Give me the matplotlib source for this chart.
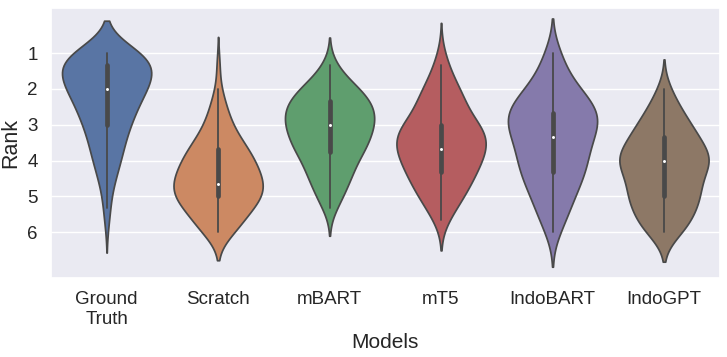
import matplotlib
matplotlib.use("Agg")
import matplotlib.pyplot as plt
import numpy as np
import pandas as pd
import seaborn as sns

# Rank levels: averages over 3 annotators -> steps of 1/3 between 1 and 6
levels = np.arange(3, 19) / 3

models = ["Ground\nTruth", "Scratch", "mBART", "mT5", "IndoBART", "IndoGPT"]

# how many samples got each level (1, 1.33, 1.67, ..., 6)
ground_truth = [15, 14, 13, 12, 9, 8, 7, 5, 5, 4, 3, 2, 1, 1, 1, 0]
scratch = [0, 1, 0, 1, 2, 3, 4, 6, 9, 11, 12, 14, 14, 10, 7, 6]
mbart = [0, 2, 4, 9, 12, 13, 13, 11, 11, 7, 7, 5, 4, 2, 0, 0]
mt5 = [1, 2, 3, 5, 7, 6, 11, 13, 12, 11, 9, 8, 6, 4, 2, 0]
indobart = [3, 2, 4, 6, 9, 12, 11, 9, 8, 8, 8, 6, 5, 4, 3, 2]
indogpt = [0, 0, 0, 2, 3, 5, 7, 9, 10, 15, 9, 9, 10, 8, 7, 6]

counts = [ground_truth, scratch, mbart, mt5, indobart, indogpt]

rows = []
for name, c in zip(models, counts):
    for v in np.repeat(levels, c):
        rows.append((name, v))
df = pd.DataFrame(rows, columns=["Models", "Rank"])

sns.set_theme(style="darkgrid")
plt.rcParams['font.family'] = ['Liberation Sans', 'DejaVu Sans']

fig, ax = plt.subplots(figsize=(7.27, 3.57), dpi=100)
sns.violinplot(data=df, x="Models", y="Rank", hue="Models", palette="deep",
               legend=False, ax=ax, order=models,
               inner_kws=dict(box_width=3.4, whis_width=1.3, marker="."))
ax.set_ylim(7.28, -0.26)
ax.set_yticks([1, 2, 3, 4, 5, 6])
ax.tick_params(labelsize=13.5)
ax.set_xlabel("Models", fontsize=15)
ax.set_ylabel("Rank", fontsize=15.5)
fig.subplots_adjust(left=0.07, right=0.99, top=0.978, bottom=0.221)

plt.savefig("out.png", dpi=100)
